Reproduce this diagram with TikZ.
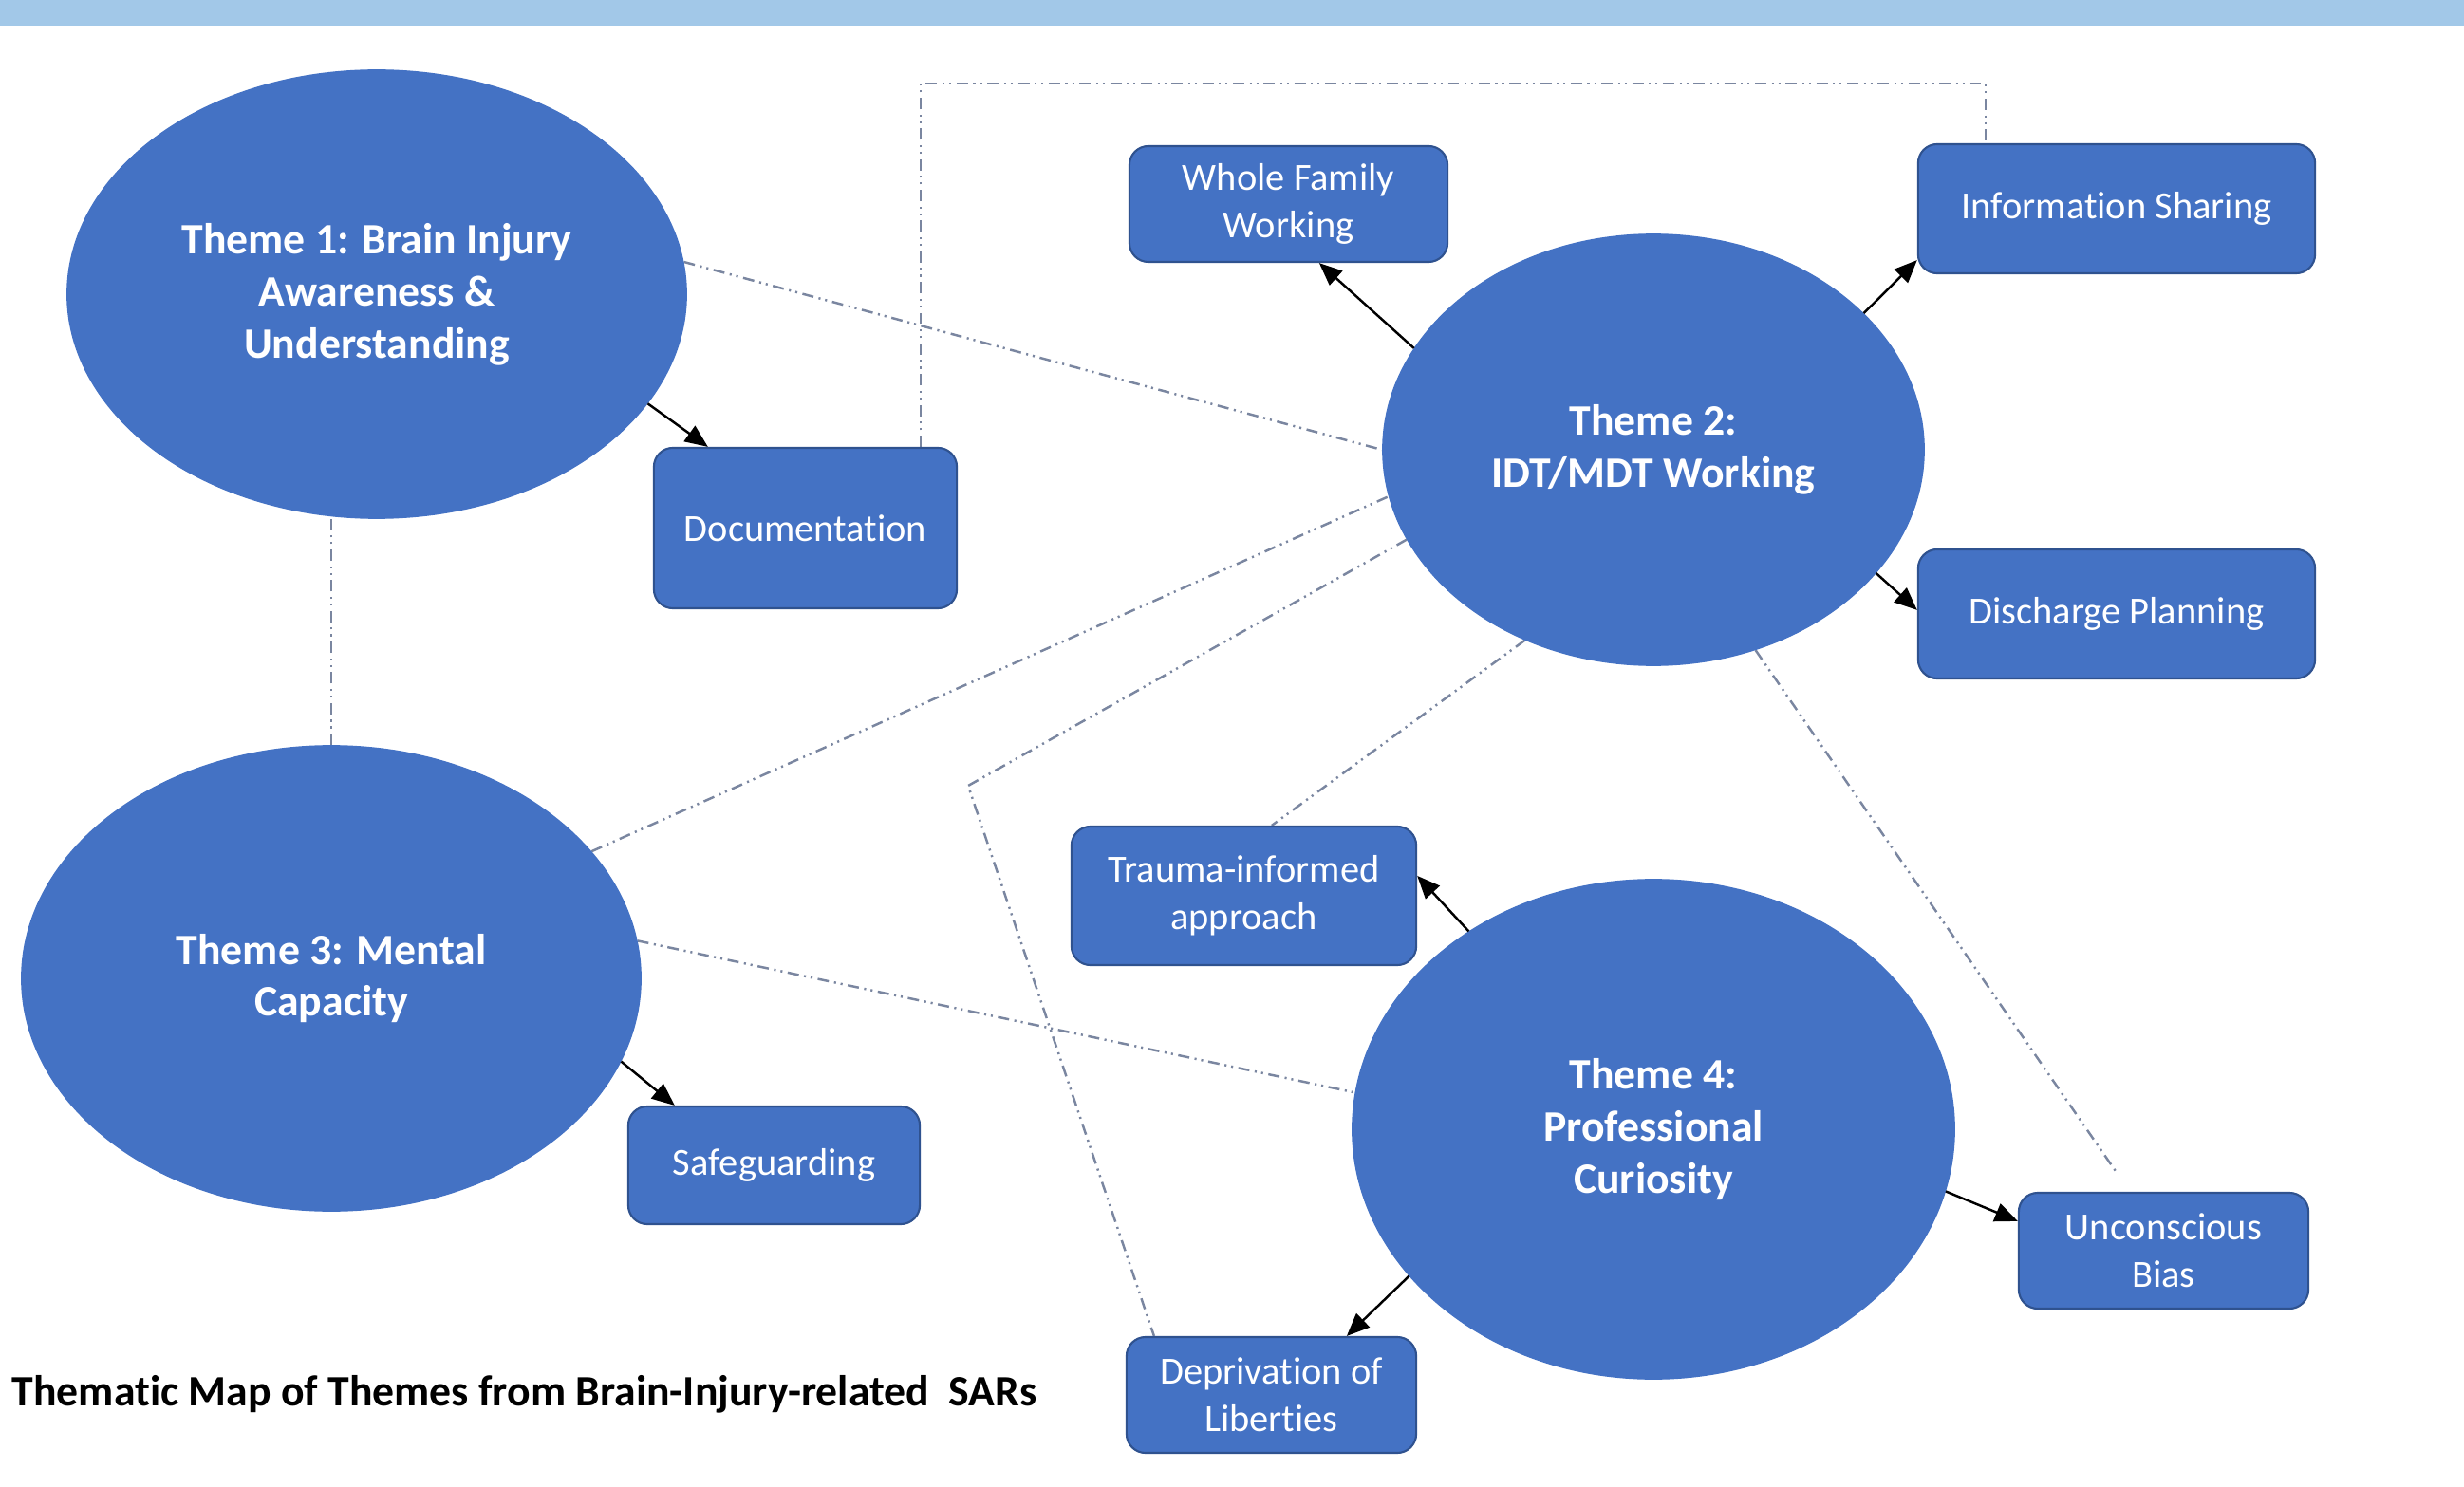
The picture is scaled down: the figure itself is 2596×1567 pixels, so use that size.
\documentclass[tikz,border=0pt]{standalone}
\usepackage{fontspec}
\setmainfont{Carlito}[Ligatures=NoCommon]
\usetikzlibrary{shapes.geometric,arrows.meta,calc}
\definecolor{themeblue}{HTML}{4472C4}
\definecolor{edgeblue}{HTML}{2F528F}
\definecolor{barblue}{HTML}{A2C8E8}
\definecolor{linkgrey}{HTML}{7A86A0}
\pgfdeclarelayer{bg}
\pgfsetlayers{bg,main}

\begin{document}
\begin{tikzpicture}[x=0.01cm,y=-0.01cm,
  theme/.style={ellipse, fill=themeblue, draw=themeblue, text=white,
    font=\fontsize{13}{15.6}\selectfont\bfseries, align=center, inner sep=0pt},
  subtopic/.style={rectangle, rounded corners=0.2cm, fill=themeblue, draw=edgeblue,
    line width=0.6pt, text=white, font=\fontsize{11.5}{14.1}\selectfont,
    align=center, inner sep=0pt},
  link/.style={draw=linkgrey, line width=0.7pt,
    dash pattern=on 3.4pt off 1.6pt on 0.6pt off 1.4pt on 0.6pt off 1.6pt},
  arr/.style={draw=black, line width=0.7pt, -{Triangle[length=2.4mm,width=2mm]}}]

\useasboundingbox (0,0) rectangle (2596,1567);
\fill[barblue] (0,0) rectangle (2596,27);

% main themes
\node[theme, minimum width=6.52cm, minimum height=4.72cm] (t1) at (397,310)
  {Theme 1: Brain Injury\\Awareness \&\\Understanding};
\node[theme, minimum width=5.70cm, minimum height=4.54cm] (t2) at (1742,474)
  {Theme 2:\\IDT/MDT Working};
\node[theme, minimum width=6.52cm, minimum height=4.90cm] (t3) at (349,1031)
  {Theme 3: Mental\\Capacity};
\node[theme, minimum width=6.34cm, minimum height=5.26cm] (t4) at (1742,1190)
  {Theme 4:\\Professional\\Curiosity};

% sub-topics
\node[subtopic, minimum width=3.35cm, minimum height=1.22cm] (wf) at (1357.5,215)
  {Whole Family\\Working};
\node[subtopic, minimum width=4.18cm, minimum height=1.36cm] (is) at (2230,220)
  {Information Sharing};
\node[subtopic, minimum width=3.19cm, minimum height=1.69cm] (doc) at (848.5,556.5)
  {Documentation};
\node[subtopic, minimum width=4.18cm, minimum height=1.36cm] (dp) at (2230,647)
  {Discharge Planning};
\node[subtopic, minimum width=3.63cm, minimum height=1.46cm] (ti) at (1310.5,944)
  {Trauma-informed\\approach};
\node[subtopic, minimum width=3.07cm, minimum height=1.24cm] (sg) at (815.5,1228)
  {Safeguarding};
\node[subtopic, minimum width=3.05cm, minimum height=1.22cm] (ub) at (2279.5,1318)
  {Unconscious\\Bias};
\node[subtopic, minimum width=3.05cm, minimum height=1.22cm] (dl) at (1339.5,1470)
  {Deprivation of\\Liberties};

\node[anchor=west, inner sep=0pt, font=\fontsize{13}{15.6}\selectfont\bfseries] (cap)
  at (12,1469) {Thematic Map of Themes from Brain-Injury-related\ \ SARs};

% cross-theme links
\coordinate (topline) at (0,88);
\coordinate (bend) at (1020,828);
\coordinate (da) at ($(doc.north east)+(-39,0)$);
\coordinate (ib) at ($(is.north west)+(72,0)$);
\begin{pgfonlayer}{bg}
  \draw[link] (t1.6) -- (t2.180);
  \draw[link] (t3.north) -- (t3.north |- t1.south);
  \draw[link] (da) -- (da |- topline) -- (ib |- topline) -- (ib);
  \draw[link] (t3.26) -- (t2.190);
  \draw[link] (t2.200) -- (bend) -- ($(dl.north west)+(30,0)$);
  \draw[link] (t2.236) -- ($(ti.north west)+(212,0)$);
  \draw[link] (t3.7) -- (t4.173);
  \draw[link] (t2.-63) -- ($(ub.north west)+(105,-19)$);
\end{pgfonlayer}

% theme-to-topic arrows
\draw[arr] (t1.-22) -- ($(doc.north west)+(58,0)$);
\draw[arr] (t2.157) -- ($(wf.south west)+(201,0)$);
\draw[arr] (t2.33) -- ($(is.south west)+(0,-15)$);
\draw[arr] (t2.-29.5) -- ($(dp.north west)+(0,65)$);
\draw[arr] (t3.-16.5) -- ($(sg.north west)+(50,0)$);
\draw[arr] (t4.133) -- ($(ti.north east)+(0,53)$);
\draw[arr] (t4.-12) -- ($(ub.north west)+(0,31)$);
\draw[arr] (t4.211.7) -- ($(dl.north west)+(233,0)$);
\end{tikzpicture}
\end{document}
